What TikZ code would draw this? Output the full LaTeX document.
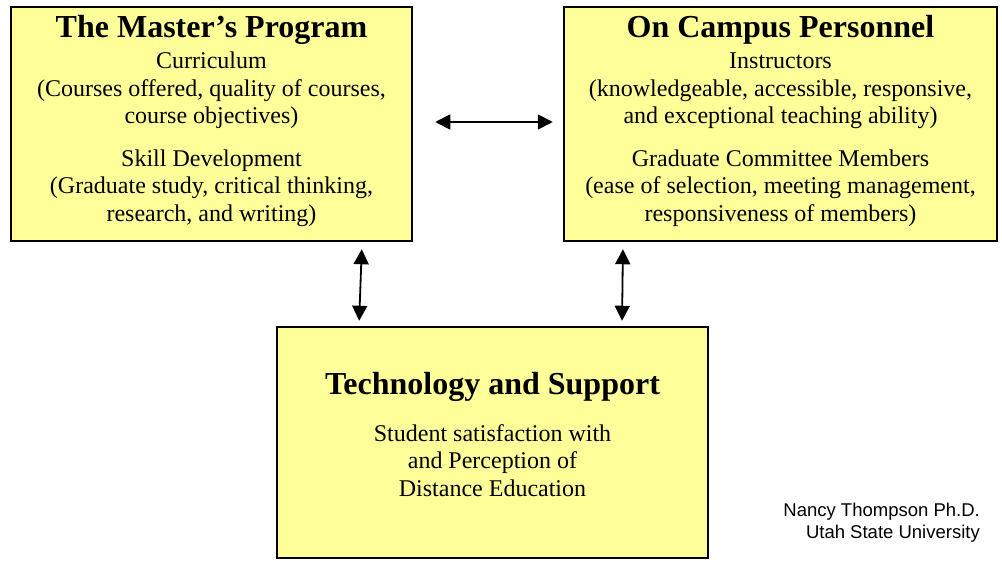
\documentclass[tikz,border=0pt]{standalone}
\usepackage{fontspec}
\setmainfont{Liberation Serif}
\newfontfamily\creditfont{Liberation Sans}
\usepackage{tikz}
\usetikzlibrary{arrows.meta}

\definecolor{boxyellow}{HTML}{FFFF99}

\tikzset{
	area/.style={draw=black, line width=2.5pt, fill=boxyellow, align=center,
		inner sep=0pt, font=\fontsize{24}{27.5}\selectfont},
	link/.style={{Triangle[length=15pt,width=15pt]}-{Triangle[length=15pt,width=15pt]}, line width=1.8pt}
}
\newcommand{\areatitle}[1]{{\fontsize{32}{33}\selectfont\bfseries #1}}

\begin{document}
\begin{tikzpicture}[x=1pt,y=-1pt]
	\useasboundingbox (0,0) rectangle (1002,561);
	\node[area, minimum width=401pt, minimum height=234pt] at (211.5,124) (master) {\areatitle{The Master’s Program}\\[4pt]
		Curriculum\\(Courses offered, quality of courses,\\course objectives)\\[15pt]
		Skill Development\\(Graduate study, critical thinking,\\research, and writing)\\[-16pt]};
	\node[area, minimum width=433pt, minimum height=234pt] at (780.5,124) (campus) {\areatitle{On Campus Personnel}\\[4pt]
		Instructors\\(knowledgeable, accessible, responsive,\\and exceptional teaching ability)\\[15pt]
		Graduate Committee Members\\(ease of selection, meeting management,\\responsiveness of members)\\[-16pt]};
	\node[area, minimum width=431pt, minimum height=231pt] at (492.5,442.5) (tech) {\areatitle{Technology and Support}\\[19pt]
		Student satisfaction with\\and Perception of\\Distance Education\\[-11pt]};
	\node[align=right, anchor=east, inner sep=0pt, font=\creditfont\fontsize{18.5}{22}\selectfont] at (980,523) (credit) {Nancy Thompson Ph.D.\\Utah State University};
	\path[link, shorten <=22pt, shorten >=10pt] ([yshift=2pt]master.east) edge ([yshift=2pt]campus.west);
	\path[link, shorten <=7pt, shorten >=5pt] ([xshift=150.5pt]master.south) edge ([xshift=-133.5pt]tech.north);
	\path[link, shorten <=7pt, shorten >=5pt] ([xshift=-157.5pt]campus.south) edge ([xshift=129.5pt]tech.north);
\end{tikzpicture}
\end{document}
